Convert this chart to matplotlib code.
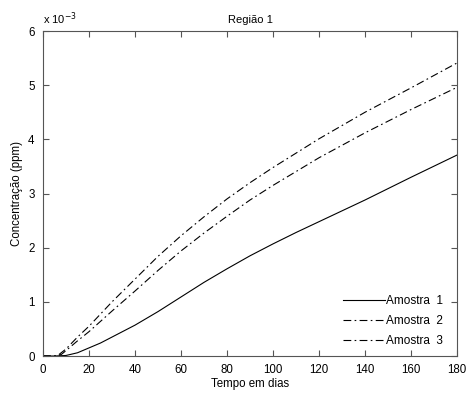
import matplotlib
matplotlib.use("Agg")
import matplotlib.pyplot as plt
from matplotlib.ticker import FuncFormatter

plt.rcParams['font.family'] = ['Liberation Sans', 'DejaVu Sans']

# tempo (dias) e concentração (ppm) de cada amostra
dias_1 = [0, 5, 10, 15, 20, 25, 30, 35, 40, 50, 60, 70, 80, 90, 100,
          110, 120, 140, 160, 180]
amostra_1 = [0, 0, 0.00001, 0.00006, 0.00015, 0.00024, 0.00035, 0.00046,
             0.00057, 0.00082, 0.00109, 0.00136, 0.00161, 0.00185, 0.00207,
             0.00228, 0.00248, 0.00288, 0.00330, 0.00371]

dias_2 = [0, 6, 8, 10, 15, 20, 30, 40, 50, 60, 70, 80, 90, 100,
          120, 140, 160, 180]
amostra_2 = [0, 0, 0.00003, 0.00010, 0.00028, 0.00045, 0.00083, 0.00120,
             0.00158, 0.00194, 0.00227, 0.00258, 0.00288, 0.00315,
             0.00366, 0.00412, 0.00455, 0.00496]

dias_3 = [0, 5, 7, 10, 15, 20, 30, 40, 50, 60, 70, 80, 90, 100,
          120, 140, 160, 180]
amostra_3 = [0, 0, 0.00003, 0.00013, 0.00035, 0.00055, 0.00100, 0.00142,
             0.00184, 0.00222, 0.00257, 0.00290, 0.00320, 0.00348,
             0.00401, 0.00450, 0.00495, 0.00541]

fig = plt.figure(figsize=(4.66, 3.94), dpi=100)
ax = fig.add_axes([0.0923, 0.0964, 0.8884, 0.8249])

ax.plot(dias_1, amostra_1, color='black', lw=0.8, label='Amostra  1')
ax.plot(dias_2, amostra_2, color='black', lw=0.8, dashes=(7, 3, 1.5, 3), label='Amostra  2')
ax.plot(dias_3, amostra_3, color='black', lw=0.8, dashes=(7, 3, 1.5, 3), label='Amostra  3')

ax.set_xlim(0, 180)
ax.set_ylim(0, 0.006)
ax.set_xticks(range(0, 181, 20))
ax.set_yticks([i * 0.001 for i in range(7)])
ax.yaxis.set_major_formatter(FuncFormatter(lambda v, p: f"{v / 1e-3:g}"))
ax.tick_params(direction='in', top=True, right=True, labelsize=8.3, length=4,
               color='#555555')
ax.tick_params(axis='x', pad=6)
ax.tick_params(axis='y', pad=6)
for s in ax.spines.values():
    s.set_color('#555555')

ax.text(0.0, 1.012, r'x 10$^{-3}$', transform=ax.transAxes, fontsize=8,
        ha='left', va='bottom')
ax.set_title('Região 1', fontsize=8, pad=6)
ax.set_xlabel('Tempo em dias', fontsize=8.3, labelpad=1)
ax.set_ylabel('Concentração (ppm)', fontsize=8.3, labelpad=4)

leg = ax.legend(loc='lower right', bbox_to_anchor=(0.977, 0.012), frameon=False,
                fontsize=8.5, handlelength=3.6, handletextpad=0.05,
                labelspacing=0.7, borderaxespad=0)

fig.savefig('out.png', dpi=100)
